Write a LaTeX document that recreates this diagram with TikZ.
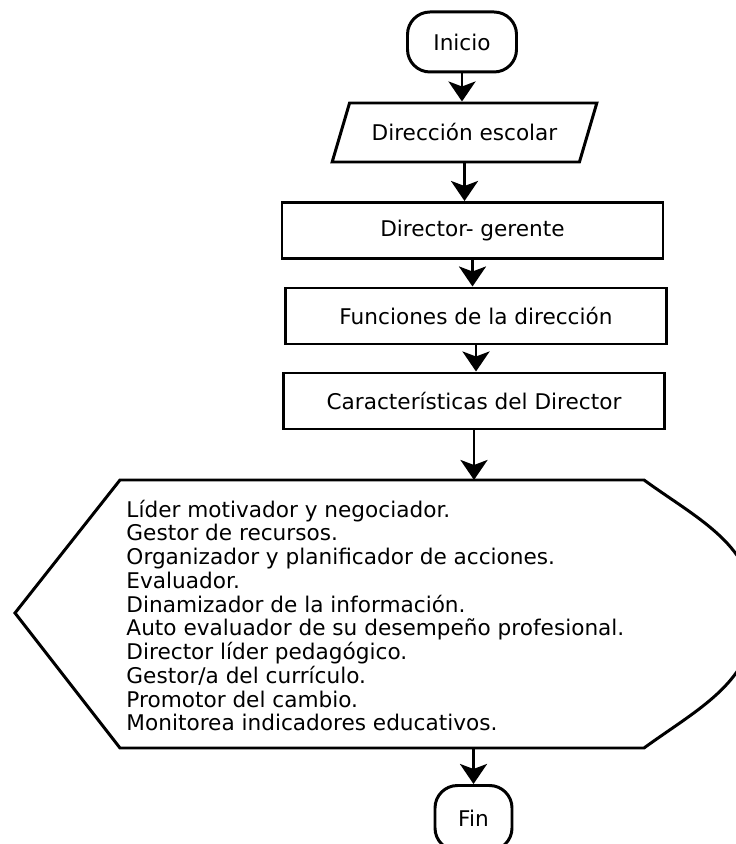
\documentclass[tikz,border=0pt]{standalone}
\usepackage{fontspec}
\setmainfont{DejaVu Sans}
\usetikzlibrary{shapes.geometric,arrows.meta}

\begin{document}
\begin{tikzpicture}[
    line width=1.7pt,
    font=\fontsize{12.3}{13.5}\selectfont,
    >={Stealth[length=0.4cm,width=0.54cm,inset=0.1cm]},
    term/.style={draw, rounded corners=0.45cm, minimum width=2.18cm, minimum height=1.2cm},
    io/.style={draw, trapezium, trapezium left angle=63, trapezium right angle=117,
      trapezium stretches=true, minimum width=5.3cm, minimum height=1.18cm},
    proc/.style={draw, rectangle, minimum width=7.62cm, minimum height=1.12cm}
  ]
  \clip (0,0) rectangle (14.72,16.88);
  \node[term] (inicio) at (9.24,16.04) {Inicio};
  \node[io] (dir) at (9.29,14.23) {Dirección escolar};
  \node[proc] (ger) at (9.45,12.27) {Director- gerente};
  \node[proc] (fun) at (9.52,10.56) {Funciones de la dirección};
  \node[proc] (car) at (9.48,8.86) {Características del Director};
  % display shape around the list
  \coordinate (dl) at (0.30,4.62);
  \coordinate (dtl) at (2.40,7.28);
  \coordinate (dtr) at (12.88,7.28);
  \coordinate (dr) at (15.1,4.62);
  \coordinate (dbr) at (12.88,1.92);
  \coordinate (dbl) at (2.40,1.92);
  \draw (dl) -- (dtl) -- (dtr) to[out=-36,in=90] (dr) to[out=-90,in=36] (dbr) -- (dbl) -- cycle;
  \node[anchor=west, align=left, inner sep=0pt] (lista) at (2.50,4.57)
    {Líder motivador y negociador.\\
     Gestor de recursos.\\
     Organizador y planificador de acciones.\\
     Evaluador.\\
     Dinamizador de la información.\\
     Auto evaluador de su desempeño profesional.\\
     Director líder pedagógico.\\
     Gestor/a del currículo.\\
     Promotor del cambio.\\
     Monitorea indicadores educativos.};
  \node[term, minimum width=1.54cm, minimum height=1.3cm] (fin) at (9.47,0.52) {Fin};

  \draw[->] (inicio.south) -- (inicio.south |- dir.north);
  \draw[->] (dir.south) -- (dir.south |- ger.north);
  \draw[->] (ger.south) -- (ger.south |- fun.north);
  \draw[->] (fun.south) -- (fun.south |- car.north);
  \draw[->] (car.south) -- (car.south |- dtl);
  \draw[->] (fin.north |- dbl) -- (fin.north);
\end{tikzpicture}
\end{document}
